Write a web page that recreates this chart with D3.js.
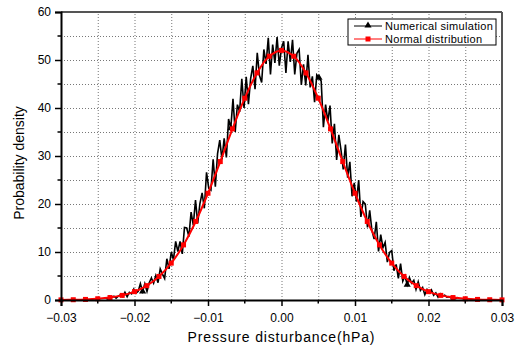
<!DOCTYPE html>
<html>
<head>
<meta charset="utf-8">
<script src="https://cdn.jsdelivr.net/npm/d3@7"></script>
<style>
  body { margin: 0; background: #fff; }
  svg { display: block; font-family: Arial, "Liberation Sans", sans-serif; }
  .grid line { stroke: #777; stroke-dasharray: 1,2; }
  .grid path { display: none; }
  .axis path, .axis line { stroke: #000; }
  .axis text { font-size: 12px; fill: #000; }
</style>
</head>
<body>
<div id="chart"></div>
<script>
// x in units of 1e-4 hPa for the simulation samples
const simX = [
  -240,-237,-234,-231,-228,-225,-222,-219,-216,-213,-210,-207,-204,-201,-198,-195,-192,-189,-186,-183,
  -180,-177,-174,-171,-168,-165,-162,-159,-156,-153,-150,-147,-144,-141,-138,-135,-132,-129,-126,-123,
  -120,-117,-114,-111,-108,-105,-102,-99,-96,-93,-90,-87,-84,-81,-78,-75,-72,-69,-66,-63,
  -60,-57,-54,-51,-48,-45,-42,-39,-36,-33,-30,-27,-24,-21,-18,-15,-12,-9,-6,-3,
  0,3,6,9,12,15,18,21,24,27,30,33,36,39,42,45,48,51,54,57,
  60,63,66,69,72,75,78,81,84,87,90,93,96,99,102,105,108,111,114,117,
  120,123,126,129,132,135,138,141,144,147,150,153,156,159,162,165,168,171,174,177,
  180,183,186,189,192,195,198,201,204,207,210,213,216,219,222,225,228,231,234,237,240
]
const simY = [
  0.5,0.2,0.8,0.5,0.8,0.4,0.8,1.1,0.7,1.6,0.7,1.6,1.3,2.3,1.4,1.8,3.4,1.8,3.4,1.8,
  3.6,4.6,3.5,5.1,3.6,6.5,5.4,4.5,8.6,6.5,10.0,8.4,12.2,10.1,12.2,9.6,15.1,15.0,13.2,18.3,
  15.6,20.8,16.0,20.1,22.3,19.1,26.6,23.3,22.9,29.3,23.6,30.5,33.3,29.3,33.7,29.7,37.7,35.8,41.9,35.0,
  40.7,39.2,46.1,40.0,46.5,40.8,46.1,48.8,43.9,51.5,46.8,45.3,52.2,49.2,54.6,47.0,53.2,49.4,54.8,48.8,
  52.5,53.9,47.3,53.9,49.6,54.2,47.0,51.4,52.2,44.8,49.1,44.7,51.1,44.3,46.6,41.2,46.9,46.3,45.6,36.0,
  40.7,37.2,40.5,32.6,36.7,29.2,34.4,31.2,27.2,32.4,25.5,28.8,21.6,24.4,20.5,25.0,17.3,20.5,20.0,15.1,
  18.7,14.5,12.7,16.3,10.1,13.6,10.9,12.0,7.9,9.9,10.3,6.1,7.4,4.5,7.6,3.9,5.0,3.2,4.7,3.5,
  4.1,2.2,3.8,2.0,2.6,1.1,2.2,1.5,2.1,1.0,1.5,0.6,1.3,0.8,1.0,0.6,0.7,0.4,0.6,0.3,0.5
]
// samples that carry a triangle marker
const simMarks = [17, 57, 97, 137]

const normX = [
  -0.03,-0.02833,-0.02667,-0.025,-0.02333,-0.02167,-0.02,-0.01833,-0.01667,-0.015,-0.01333,-0.01167,-0.01,
  -0.00833,-0.00667,-0.005,-0.00333,-0.00167,0,0.00167,0.00333,0.005,0.00667,0.00833,
  0.01,0.01167,0.01333,0.015,0.01667,0.01833,0.02,0.02167,0.02333,0.025,0.02667,0.02833,0.03
]
const normY = [
  0.025,0.057,0.12,0.26,0.51,0.96,1.74,2.99,4.91,7.68,11.48,16.36,22.24,
  28.84,35.65,42.04,47.31,50.79,52,50.79,47.31,42.04,35.65,28.84,
  22.24,16.36,11.48,7.68,4.91,2.99,1.74,0.96,0.51,0.26,0.12,0.057,0.025
]
const xTicks = [-0.03, -0.02, -0.01, 0, 0.01, 0.02, 0.03]
const yTicks = [0, 10, 20, 30, 40, 50, 60]
const seriesNames = ["Numerical simulation", "Normal distribution"]

let margin = { top: 12, right: 22, bottom: 45, left: 61 }
let W = 524, H = 345
let width = W - margin.left - margin.right
let height = H - margin.top - margin.bottom

let svg = d3.select("#chart").append("svg")
  .attr("width", W)
  .attr("height", H)

let g = svg.append("g")
  .attr("transform", "translate(" + margin.left + "," + margin.top + ")")

let xScale = d3.scaleLinear().domain([-0.03, 0.03]).range([0, width])
let yScale = d3.scaleLinear().domain([0, 60]).range([height, 0])

let xMinor = d3.range(-0.03, 0.0301, 0.005)
let yMinor = d3.range(0, 60.1, 5)

// grid
g.append("g")
  .attr("class", "grid")
  .attr("transform", "translate(0," + height + ")")
  .call(d3.axisBottom(xScale).tickValues(xMinor.slice(1, -1)).tickSize(-height).tickFormat(""))

g.append("g")
  .attr("class", "grid")
  .call(d3.axisLeft(yScale).tickValues(yMinor.slice(1, -1)).tickSize(-width).tickFormat(""))

// frame top / right
g.append("line").attr("x1", 0).attr("x2", width).attr("y1", 0).attr("y2", 0)
  .attr("stroke", "#555").attr("stroke-width", 2)
g.append("line").attr("x1", width).attr("x2", width).attr("y1", 0).attr("y2", height)
  .attr("stroke", "#555").attr("stroke-width", 2)

// series
let simLine = d3.line()
  .x((d, i) => xScale(simX[i] / 10000))
  .y(d => yScale(d))

g.append("path")
  .datum(simY)
  .attr("fill", "none")
  .attr("stroke", "#000")
  .attr("stroke-width", 1.6)
  .attr("stroke-linejoin", "miter")
  .attr("d", simLine)

let tri = d3.symbol().type(d3.symbolTriangle).size(22)
g.selectAll(".tri")
  .data(simMarks)
  .enter().append("path")
  .attr("d", tri)
  .attr("transform", i => "translate(" + xScale(simX[i] / 10000) + "," + yScale(simY[i]) + ")")
  .attr("fill", "#000")

let normLine = d3.line()
  .x((d, i) => xScale(normX[i]))
  .y(d => yScale(d))
  .curve(d3.curveCatmullRom)

g.append("path")
  .datum(normY)
  .attr("fill", "none")
  .attr("stroke", "#f00")
  .attr("stroke-width", 2)
  .attr("d", normLine)

g.selectAll(".sq")
  .data(normY)
  .enter().append("rect")
  .attr("x", (d, i) => xScale(normX[i]) - 2.5)
  .attr("y", d => yScale(d) - 2.5)
  .attr("width", 5)
  .attr("height", 5)
  .attr("fill", "#f00")

// axes
let xAxis = g.append("g")
  .attr("class", "axis")
  .attr("transform", "translate(0," + height + ")")
  .call(d3.axisBottom(xScale).tickValues(xTicks).tickSize(6).tickFormat(d3.format(".2f")))
xAxis.select("path").attr("stroke-width", 2)
xAxis.selectAll(".tick line").attr("stroke-width", 1.5)
xAxis.selectAll("text").attr("dy", "1.05em")
xAxis.selectAll(".minor").data(xMinor.filter((d, i) => i % 2 == 1))
  .enter().append("line")
  .attr("x1", d => xScale(d)).attr("x2", d => xScale(d))
  .attr("y1", 0).attr("y2", 3.5)
  .attr("stroke", "#000").attr("stroke-width", 1.5)

let yAxis = g.append("g")
  .attr("class", "axis")
  .call(d3.axisLeft(yScale).tickValues(yTicks).tickSize(6))
yAxis.select("path").attr("stroke-width", 2)
yAxis.selectAll(".tick line").attr("stroke-width", 1.5)
yAxis.selectAll("text").attr("x", -10)
yAxis.selectAll(".minor").data(yMinor.filter((d, i) => i % 2 == 1))
  .enter().append("line")
  .attr("y1", d => yScale(d)).attr("y2", d => yScale(d))
  .attr("x1", 0).attr("x2", -3.5)
  .attr("stroke", "#000").attr("stroke-width", 1.5)

// titles
svg.append("text")
  .attr("x", margin.left + width / 2)
  .attr("y", 342)
  .attr("text-anchor", "middle")
  .attr("font-size", 14)
  .attr("letter-spacing", 0.85)
  .text("Pressure disturbance(hPa)")

svg.append("text")
  .attr("transform", "translate(24,163) rotate(-90)")
  .attr("text-anchor", "middle")
  .attr("font-size", 14)
  .text("Probability density")

// legend
let lg = svg.append("g").attr("transform", "translate(348,19)")
lg.append("rect").attr("width", 148).attr("height", 26)
  .attr("fill", "#fff").attr("stroke", "#000").attr("stroke-width", 1)
lg.append("line").attr("x1", 6).attr("x2", 34).attr("y1", 7).attr("y2", 7)
  .attr("stroke", "#000").attr("stroke-width", 1)
lg.append("path").attr("d", tri).attr("transform", "translate(20,6.5)")
lg.append("line").attr("x1", 6).attr("x2", 34).attr("y1", 20).attr("y2", 20)
  .attr("stroke", "#f00").attr("stroke-width", 1)
lg.append("rect").attr("x", 17.5).attr("y", 17.5).attr("width", 5).attr("height", 5).attr("fill", "#f00")
lg.selectAll(".lt").data(seriesNames).enter().append("text")
  .attr("x", 37)
  .attr("y", (d, i) => 11 + i * 13)
  .attr("font-size", 11)
  .attr("letter-spacing", 0.3)
  .text(d => d)
</script>
</body>
</html>
